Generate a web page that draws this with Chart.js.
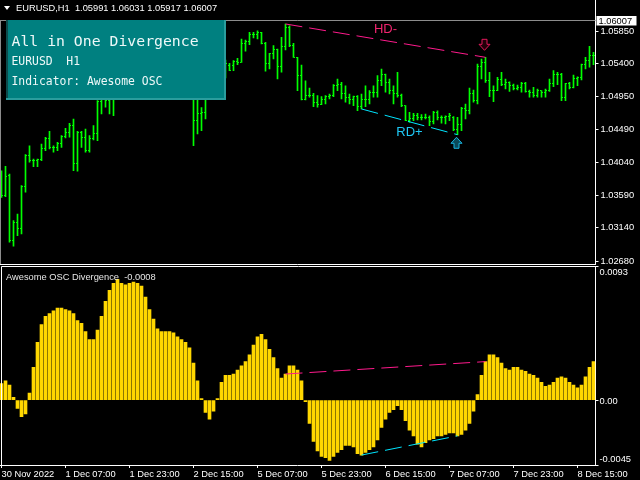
<!DOCTYPE html>
<html><head><meta charset="utf-8">
<script src="https://cdn.jsdelivr.net/npm/chart.js@4.4.0/dist/chart.umd.min.js"></script>
<style>
html,body{margin:0;padding:0;background:#000;overflow:hidden}
#wrap{position:relative;width:640px;height:480px;background:#000;overflow:hidden}
#top{position:absolute;left:-1px;top:0;width:641px;height:265px}
#bot{position:absolute;left:-1px;top:265px;width:641px;height:215px}
</style></head><body>
<div id="wrap"><canvas id="top" width="641" height="265"></canvas><canvas id="bot" width="641" height="215"></canvas></div>
<script>
// ---------- data ----------
const symbolText = 'EURUSD,H1';
const headerQuote = ['1.05991','1.06031','1.05917','1.06007'];
const currentPrice = 1.06007;
const priceTicks = [1.05850,1.05400,1.04950,1.04490,1.04040,1.03590,1.03140,1.02680];
const oscTicks = [0.0093, 0.00, -0.0045];
const oscTickLabels = ['0.0093','0.00','-0.0045'];
const tickLabels = ['30 Nov 2022','1 Dec 07:00','1 Dec 23:00','2 Dec 15:00','5 Dec 07:00','5 Dec 23:00','6 Dec 15:00','7 Dec 07:00','7 Dec 23:00','8 Dec 15:00'];
const oscName = 'Awesome OSC Divergence  -0.0008';
const boxLines = ['All in One Divergence','EURUSD  H1','Indicator: Awesome OSC'];

const opens = [1.03868,1.03583,1.03859,1.02964,1.03217,1.03134,1.03707,1.04134,1.04065,1.04065,
1.04084,1.04226,1.04377,1.04249,1.04249,1.04295,1.04395,1.04456,1.04556,1.04029,
1.04456,1.04387,1.04203,1.04364,1.04446,1.04883,1.04928,1.04887,1.04956,1.05011,
1.05286,1.05451,1.05382,1.05479,1.05589,1.05520,1.05369,1.05176,1.05313,1.05245,
1.05107,1.05203,1.05148,1.05245,1.05176,1.05038,1.05148,1.05066,1.05011,1.04625,
1.04708,1.04731,1.04928,1.05038,1.05121,1.05231,1.05313,1.05373,1.05373,1.05428,
1.05419,1.05681,1.05709,1.05799,1.05799,1.05832,1.05681,1.05396,1.05534,1.05589,
1.05359,1.05634,1.05901,1.05648,1.05488,1.05235,1.04914,1.04960,1.04969,1.04869,
1.04845,1.04914,1.04946,1.04969,1.05097,1.05107,1.04983,1.04928,1.04914,1.04946,
1.04808,1.04901,1.04901,1.05007,1.05007,1.05166,1.05258,1.05144,1.05029,1.04983,
1.04969,1.04822,1.04625,1.04639,1.04684,1.04662,1.04653,1.04662,1.04607,1.04731,
1.04653,1.04653,1.04671,1.04662,1.04488,1.04570,1.04777,1.04753,1.04993,1.04891,
1.05364,1.05419,1.05166,1.05029,1.05029,1.05176,1.05107,1.05144,1.05097,1.05052,
1.05075,1.05121,1.05020,1.05007,1.04960,1.05029,1.05007,1.05029,1.05121,1.05258,
1.05258,1.04938,1.05121,1.05075,1.05190,1.05213,1.05386,1.05451,1.05510];
const highs = [1.03927,1.03988,1.03882,1.03239,1.03331,1.03721,1.04148,1.04271,1.04088,1.04088,
1.04295,1.04387,1.04470,1.04271,1.04318,1.04409,1.04511,1.04580,1.04639,1.04470,
1.04470,1.04501,1.04409,1.04547,1.04891,1.05038,1.05011,1.05038,1.05066,1.05313,
1.05520,1.05589,1.05520,1.05658,1.05726,1.05658,1.05520,1.05424,1.05479,1.05451,
1.05313,1.05382,1.05313,1.05424,1.05341,1.05245,1.05313,1.05245,1.05107,1.04969,
1.04795,1.04969,1.05107,1.05203,1.05286,1.05369,1.05451,1.05406,1.05442,1.05475,
1.05740,1.05726,1.05832,1.05832,1.05854,1.05832,1.05695,1.05543,1.05648,1.05603,
1.05764,1.05947,1.05923,1.05681,1.05488,1.05382,1.05166,1.05066,1.04993,1.04960,
1.04946,1.04960,1.04983,1.05111,1.05190,1.05144,1.05097,1.04983,1.04956,1.04960,
1.04983,1.05097,1.05029,1.05097,1.05235,1.05327,1.05258,1.05190,1.05097,1.05282,
1.04983,1.04822,1.04731,1.04717,1.04717,1.04698,1.04708,1.04684,1.04745,1.04753,
1.04684,1.04684,1.04717,1.04671,1.04662,1.04800,1.04845,1.05066,1.05038,1.05396,
1.05465,1.05488,1.05282,1.05097,1.05213,1.05282,1.05190,1.05152,1.05121,1.05107,
1.05144,1.05144,1.05038,1.05075,1.05052,1.05029,1.05052,1.05190,1.05304,1.05282,
1.05268,1.05130,1.05144,1.05245,1.05221,1.05396,1.05488,1.05640,1.05557];
const lows = [1.03561,1.03569,1.02942,1.02887,1.03033,1.03056,1.03630,1.04043,1.03982,1.03982,
1.04065,1.04203,1.04226,1.04181,1.04203,1.04249,1.04377,1.04387,1.03927,1.03919,
1.04249,1.04181,1.04181,1.04350,1.04340,1.04708,1.04800,1.04708,1.04684,1.04969,
1.05176,1.05313,1.05245,1.05369,1.05451,1.05313,1.05107,1.05066,1.05176,1.05038,
1.04969,1.05066,1.05011,1.05107,1.04969,1.04928,1.05011,1.04956,1.04271,1.04433,
1.04478,1.04639,1.04921,1.04956,1.05011,1.05107,1.05203,1.05304,1.05304,1.05386,
1.05419,1.05571,1.05662,1.05754,1.05740,1.05671,1.05296,1.05327,1.05465,1.05190,
1.05282,1.05589,1.05634,1.05488,1.05029,1.04901,1.04901,1.04938,1.04808,1.04800,
1.04836,1.04845,1.04914,1.04946,1.05029,1.04914,1.04869,1.04845,1.04822,1.04753,
1.04777,1.04808,1.04845,1.04938,1.04938,1.05097,1.05007,1.04983,1.04845,1.04938,
1.04808,1.04616,1.04594,1.04616,1.04625,1.04625,1.04639,1.04547,1.04570,1.04625,
1.04580,1.04570,1.04616,1.04478,1.04423,1.04478,1.04639,1.04708,1.04869,1.04845,
1.05190,1.05144,1.04946,1.04877,1.05029,1.05097,1.05052,1.05020,1.05038,1.05038,
1.05007,1.05007,1.04938,1.04938,1.04938,1.04938,1.04938,1.05020,1.05084,1.05111,
1.04891,1.04891,1.05052,1.05066,1.05097,1.05176,1.05327,1.05351,1.05386];
const closes = [1.03579,1.03845,1.02964,1.03217,1.03134,1.03707,1.04134,1.04065,1.04065,1.04084,
1.04226,1.04377,1.04249,1.04249,1.04295,1.04395,1.04456,1.04556,1.04029,1.04456,
1.04387,1.04203,1.04364,1.04446,1.04883,1.04928,1.04887,1.04956,1.05011,1.05286,
1.05451,1.05382,1.05479,1.05589,1.05520,1.05369,1.05176,1.05313,1.05245,1.05107,
1.05203,1.05148,1.05245,1.05176,1.05038,1.05148,1.05066,1.05011,1.04616,1.04708,
1.04731,1.04928,1.05038,1.05121,1.05231,1.05313,1.05396,1.05313,1.05428,1.05419,
1.05681,1.05709,1.05799,1.05799,1.05832,1.05681,1.05396,1.05534,1.05589,1.05359,
1.05634,1.05901,1.05648,1.05488,1.05235,1.04914,1.04960,1.04969,1.04869,1.04845,
1.04914,1.04946,1.04969,1.05097,1.05107,1.04983,1.04928,1.04914,1.04946,1.04808,
1.04901,1.04901,1.05007,1.05007,1.05166,1.05258,1.05144,1.05029,1.04983,1.04969,
1.04822,1.04625,1.04639,1.04684,1.04662,1.04653,1.04662,1.04607,1.04731,1.04653,
1.04653,1.04671,1.04684,1.04488,1.04570,1.04777,1.04753,1.04993,1.04891,1.05364,
1.05419,1.05166,1.05029,1.05029,1.05176,1.05107,1.05144,1.05097,1.05052,1.05075,
1.05121,1.05020,1.05007,1.04960,1.05029,1.05007,1.05029,1.05121,1.05258,1.05258,
1.04938,1.05121,1.05075,1.05190,1.05213,1.05386,1.05451,1.05510,1.05510];
const aoValues = [0.00114,0.00133,0.00105,0.00019,-0.00057,-0.00114,-0.00095,0.00048,0.00228,0.00400,
0.00524,0.00581,0.00600,0.00619,0.00638,0.00638,0.00628,0.00619,0.00600,0.00552,
0.00533,0.00476,0.00419,0.00419,0.00486,0.00581,0.00685,0.00762,0.00809,0.00838,
0.00809,0.00800,0.00809,0.00819,0.00809,0.00790,0.00714,0.00628,0.00562,0.00495,
0.00476,0.00476,0.00476,0.00466,0.00438,0.00419,0.00400,0.00362,0.00257,0.00133,
0.00010,-0.00086,-0.00133,-0.00076,0.00010,0.00124,0.00171,0.00171,0.00181,0.00209,
0.00238,0.00267,0.00314,0.00381,0.00438,0.00457,0.00419,0.00352,0.00295,0.00219,
0.00152,0.00181,0.00238,0.00238,0.00209,0.00133,-0.00010,-0.00162,-0.00286,-0.00352,
-0.00390,-0.00400,-0.00419,-0.00390,-0.00362,-0.00343,-0.00314,-0.00314,-0.00324,-0.00371,
-0.00381,-0.00362,-0.00343,-0.00324,-0.00276,-0.00190,-0.00133,-0.00086,-0.00067,-0.00038,
-0.00067,-0.00143,-0.00209,-0.00248,-0.00305,-0.00324,-0.00295,-0.00276,-0.00267,-0.00248,
-0.00248,-0.00238,-0.00228,-0.00228,-0.00248,-0.00238,-0.00209,-0.00162,-0.00076,0.00038,
0.00171,0.00267,0.00314,0.00314,0.00295,0.00257,0.00219,0.00209,0.00228,0.00228,
0.00209,0.00200,0.00181,0.00171,0.00152,0.00124,0.00095,0.00105,0.00124,0.00152,
0.00162,0.00152,0.00124,0.00105,0.00086,0.00105,0.00162,0.00228,0.00267];
const hdIdx = [71, 121];   // hidden bearish divergence (price highs / AO)
const rdIdx = [90, 114];   // regular bullish divergence (price lows / AO)

// categories: hourly bars, weekend skipped
const months = ['Jan','Feb','Mar','Apr','May','Jun','Jul','Aug','Sep','Oct','Nov','Dec'];
const categories = [];
(function(){
  let t = Date.UTC(2022,10,30,15);
  while (categories.length < opens.length) {
    const d = new Date(t), wd = d.getUTCDay();
    if (wd !== 0 && wd !== 6) categories.push(d.getUTCDate()+' '+months[d.getUTCMonth()]+' '+String(d.getUTCHours()).padStart(2,'0')+':00');
    t += 3600000;
  }
})();

// ---------- styles ----------
const GREEN = '#00ff00', GOLD = '#ffd700', PINK = '#ff1a8c', CYAN = '#00e5ff';
const FONT = 'Liberation Sans';
Chart.defaults.font.family = FONT;

function tickImg(side){
  const c = document.createElement('canvas'); c.width = 3; c.height = 1;
  const g = c.getContext('2d'); g.fillStyle = GREEN; g.fillRect(side < 0 ? 0 : 2, 0, 1, 1);
  return c;
}
function sparse(idx, src){ const a = categories.map(() => null); idx.forEach(i => a[i] = src[i]); return a; }

function drawArrow(ctx, cx, tip, dir, stroke, fill){
  const h = 11, sh = 5;
  ctx.beginPath();
  ctx.moveTo(cx-2.5, tip - dir*h);
  ctx.lineTo(cx+2.5, tip - dir*h);
  ctx.lineTo(cx+2.5, tip - dir*(h-sh));
  ctx.lineTo(cx+5.5, tip - dir*(h-sh));
  ctx.lineTo(cx, tip);
  ctx.lineTo(cx-5.5, tip - dir*(h-sh));
  ctx.lineTo(cx-2.5, tip - dir*(h-sh));
  ctx.closePath();
  ctx.fillStyle = fill; ctx.fill();
  ctx.strokeStyle = stroke; ctx.lineWidth = 1; ctx.stroke();
}

const topOverlay = {
  id: 'topOverlay',
  beforeDatasetsDraw(chart){ chart.ctx.imageSmoothingEnabled = false; },
  afterDraw(chart){
    const ctx = chart.ctx, a = chart.chartArea, x = chart.scales.x, y = chart.scales.y;
    ctx.save();
    ctx.imageSmoothingEnabled = true;
    const py = Math.round(y.getPixelForValue(currentPrice)) + 0.5;
    ctx.strokeStyle = '#8c8c8c'; ctx.lineWidth = 1;
    ctx.beginPath(); ctx.moveTo(0, py); ctx.lineTo(a.right, py); ctx.stroke();
    ctx.beginPath(); ctx.moveTo(1.5, py); ctx.lineTo(1.5, a.bottom); ctx.stroke();
    ctx.strokeStyle = '#ffffff';
    ctx.beginPath(); ctx.moveTo(0, a.bottom - 0.5); ctx.lineTo(a.right, a.bottom - 0.5); ctx.stroke();
    ctx.font = '13px ' + FONT; ctx.textAlign = 'center'; ctx.textBaseline = 'alphabetic';
    let mx = (x.getPixelForValue(hdIdx[0]) + x.getPixelForValue(hdIdx[1])) / 2;
    let my = (y.getPixelForValue(highs[hdIdx[0]]) + y.getPixelForValue(highs[hdIdx[1]])) / 2;
    ctx.fillStyle = '#f0246e'; ctx.fillText('HD-', mx, my - 7.4);
    mx = (x.getPixelForValue(rdIdx[0]) + x.getPixelForValue(rdIdx[1])) / 2;
    my = (y.getPixelForValue(lows[rdIdx[0]]) + y.getPixelForValue(lows[rdIdx[1]])) / 2;
    ctx.fillStyle = '#1ec8f5'; ctx.fillText('RD+', mx, my + 13.8);
    drawArrow(ctx, Math.round(x.getPixelForValue(hdIdx[1])) - 1.5, y.getPixelForValue(highs[hdIdx[1]]) - 7, 1, '#e0185a', '#200008');
    drawArrow(ctx, Math.round(x.getPixelForValue(rdIdx[1])) - 0.5, y.getPixelForValue(lows[rdIdx[1]]) + 2.6, -1, '#19b5e0', '#0a4a5a');
    ctx.fillStyle = '#008080'; ctx.fillRect(7, 20, 220, 80);
    ctx.fillStyle = '#0c4c4c'; ctx.fillRect(7, 20, 2, 80);
    ctx.fillStyle = '#2a9d9d'; ctx.fillRect(225, 20, 2, 80); ctx.fillRect(7, 98, 220, 2);
    ctx.fillStyle = '#eef8f8'; ctx.textAlign = 'left';
    ctx.font = "14.8px 'DejaVu Sans Mono'"; ctx.fillText(boxLines[0], 12.5, 45.7);
    ctx.font = "11.4px 'DejaVu Sans Mono'"; ctx.fillText(boxLines[1], 12.5, 65);
    ctx.fillText(boxLines[2], 12.5, 85);
    ctx.fillStyle = '#ffffff';
    ctx.beginPath(); ctx.moveTo(5, 6); ctx.lineTo(11, 6); ctx.lineTo(8, 10); ctx.closePath(); ctx.fill();
    ctx.font = '9.3px ' + FONT;
    ctx.fillText(symbolText + '  ' + headerQuote.join(' '), 17, 10.7);
    ctx.fillStyle = '#ffffff'; ctx.fillRect(a.right + 1, py - 4.5, 40, 9.5);
    ctx.fillStyle = '#000000'; ctx.textBaseline = 'middle';
    ctx.fillText(currentPrice.toFixed(5), a.right + 3, py + 0.5);
    ctx.restore();
  }
};

const botOverlay = {
  id: 'botOverlay',
  afterDraw(chart){
    const ctx = chart.ctx, a = chart.chartArea, y = chart.scales.y;
    ctx.save();
    ctx.strokeStyle = '#ffffff'; ctx.lineWidth = 1;
    ctx.beginPath(); ctx.moveTo(2.5, a.bottom); ctx.lineTo(2.5, a.top + 0.5); ctx.lineTo(a.right, a.top + 0.5); ctx.stroke();
    ctx.fillStyle = '#e6e6e6'; ctx.font = '9.3px ' + FONT; ctx.textAlign = 'left'; ctx.textBaseline = 'alphabetic';
    ctx.fillText(oscName, 7, 14.7);
    ctx.fillStyle = '#ffffff'; ctx.textBaseline = 'middle';
    oscTicks.forEach((v, i) => {
      let py = y.getPixelForValue(v) + 1.3;
      py = Math.min(Math.max(py, a.top + 6.3), a.bottom - 5.7);
      ctx.fillText(oscTickLabels[i], a.right + 4, py);
    });
    ctx.restore();
  }
};

const common = {
  responsive: false, animation: false, devicePixelRatio: 1, events: [],
  plugins: { legend: { display: false }, tooltip: { enabled: false } }
};

new Chart(document.getElementById('top'), {
  type: 'bar',
  data: {
    labels: categories,
    datasets: [
      { type: 'bar', data: lows.map((l, i) => [l, highs[i]]), backgroundColor: GREEN, borderWidth: 0, barThickness: 1, order: 5 },
      { type: 'line', data: opens, showLine: false, pointStyle: tickImg(-1), pointRadius: 1, order: 4 },
      { type: 'line', data: closes, showLine: false, pointStyle: tickImg(1), pointRadius: 1, order: 4 },
      { type: 'line', data: sparse(hdIdx, highs), spanGaps: true, borderColor: PINK, borderWidth: 1, borderDash: [17, 7], pointRadius: 0, order: 1 },
      { type: 'line', data: sparse(rdIdx, lows), spanGaps: true, borderColor: CYAN, borderWidth: 1, borderDash: [17, 7], pointRadius: 0, order: 1 }
    ]
  },
  options: Object.assign({}, common, {
    layout: { autoPadding: false, padding: { left: 0.5, top: 0, right: 0, bottom: 0 } },
    scales: {
      x: { display: false, offset: true, afterFit: s => { s.paddingLeft = 0; s.paddingRight = 0; } },
      y: {
        position: 'right',
        min: 1.02629, max: 1.06277,
        afterBuildTicks: s => { s.ticks = priceTicks.map(v => ({ value: v })); },
        afterFit: s => { s.width = 44.5; s.paddingTop = 0; s.paddingBottom = 0; },
        ticks: { color: '#ffffff', font: { family: FONT, size: 9.3 }, padding: 2, crossAlign: 'near', callback: v => Number(v).toFixed(5) },
        grid: { drawOnChartArea: false, color: '#ffffff', tickLength: 3 },
        border: { display: true, color: '#ffffff' }
      }
    }
  }),
  plugins: [topOverlay]
});

new Chart(document.getElementById('bot'), {
  type: 'bar',
  data: {
    labels: categories,
    datasets: [
      { type: 'bar', data: aoValues, backgroundColor: GOLD, borderWidth: 0, barThickness: 3, order: 5 },
      { type: 'line', data: sparse(hdIdx, aoValues), spanGaps: true, borderColor: PINK, borderWidth: 1, borderDash: [17, 7], pointRadius: 0, order: 1 },
      { type: 'line', data: sparse(rdIdx, aoValues), spanGaps: true, borderColor: CYAN, borderWidth: 1, borderDash: [17, 7], pointRadius: 0, order: 1 }
    ]
  },
  options: Object.assign({}, common, {
    layout: { autoPadding: false, padding: { left: 0.5, top: 1, right: 0, bottom: 0 } },
    scales: {
      x: {
        offset: true,
        afterBuildTicks: s => { s.ticks = s.ticks.filter(t => t.value % 16 === 0); },
        afterFit: s => { s.height = 15; s.paddingLeft = 0; s.paddingRight = 0; },
        ticks: { autoSkip: false, maxRotation: 0, minRotation: 0, align: 'start', color: '#ffffff', padding: 1,
                 font: { family: FONT, size: 9.3 }, callback: v => tickLabels[v / 16] },
        grid: { offset: false, drawOnChartArea: false, color: '#ffffff', tickLength: 3 },
        border: { display: true, color: '#ffffff' }
      },
      y: {
        position: 'right',
        min: -0.0045, max: 0.0093,
        afterBuildTicks: s => { s.ticks = oscTicks.map(v => ({ value: v })); },
        afterFit: s => { s.width = 44.5; s.paddingTop = 0; s.paddingBottom = 0; },
        ticks: { display: false },
        grid: { drawOnChartArea: false, color: '#ffffff', tickLength: 3 },
        border: { display: true, color: '#ffffff' }
      }
    }
  }),
  plugins: [botOverlay]
});
</script>
</body></html>
